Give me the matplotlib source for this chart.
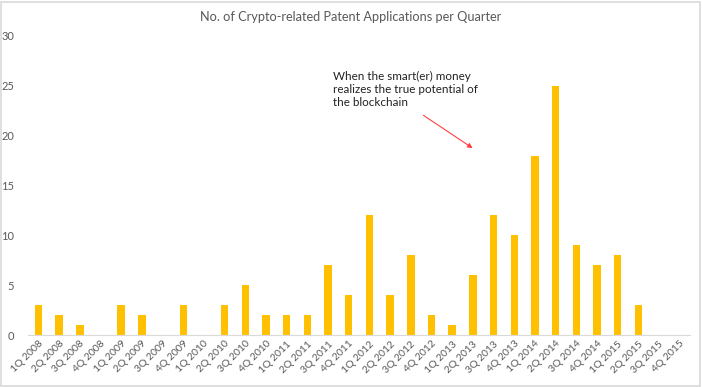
import matplotlib
matplotlib.use("Agg")
import matplotlib.pyplot as plt
from matplotlib.patches import Rectangle

quarters = [f"{q}Q {y}" for y in range(2008, 2016) for q in range(1, 5)]
values = [3, 2, 1, 0, 3, 2, 0, 3, 0, 3, 5, 2, 2, 2, 7, 4,
          12, 4, 8, 2, 1, 6, 12, 10, 18, 25, 9, 7, 8, 3, 0, 0]
yticks = [0, 5, 10, 15, 20, 25, 30]
title = "No. of Crypto-related Patent Applications per Quarter"
note = "When the smart(er) money\nrealizes the true potential of\nthe blockchain"

plt.rcParams['font.family'] = ['Lato', 'DejaVu Sans']
grey = "#595959"

fig = plt.figure(figsize=(7.02, 3.87), dpi=100)
ax = fig.add_axes([0.040, 0.134, 0.943, 0.773])
x = list(range(len(quarters)))
ax.bar(x, values, width=0.36, color="#FFC000", zorder=2)
ax.set_xlim(-0.5, len(quarters) - 0.5)
ax.set_ylim(0, 30)
ax.set_yticks(yticks)
ax.set_yticklabels([str(t) for t in yticks], fontsize=8, color=grey)
ax.set_xticks(x)
ax.set_xticklabels(quarters, rotation=45, ha='right', rotation_mode='anchor',
                   fontsize=7.5, color=grey)
for s in ['top', 'right', 'left']:
    ax.spines[s].set_visible(False)
ax.spines['bottom'].set_color("#D9D9D9")
ax.tick_params(axis='both', length=0)
ax.tick_params(axis='y', pad=10)
ax.tick_params(axis='x', pad=3)

fig.text(0.5, 0.955, title, ha='center', va='center', fontsize=9.2, color=grey)

ax.text(14.25, 26.5, note, ha='left', va='top', fontsize=8.4, color="#222222",
        linespacing=1.25)
ax.annotate("", xy=(21.1, 18.6), xytext=(18.5, 22.2),
            arrowprops=dict(arrowstyle='-|>', color='#FF4040', lw=0.8,
                            mutation_scale=7))

fig.patches.append(Rectangle((0.002, 0.003), 0.995, 0.993, transform=fig.transFigure,
                             fill=False, edgecolor="#D9D9D9", lw=1.2))
fig.savefig("out.png", dpi=100)
